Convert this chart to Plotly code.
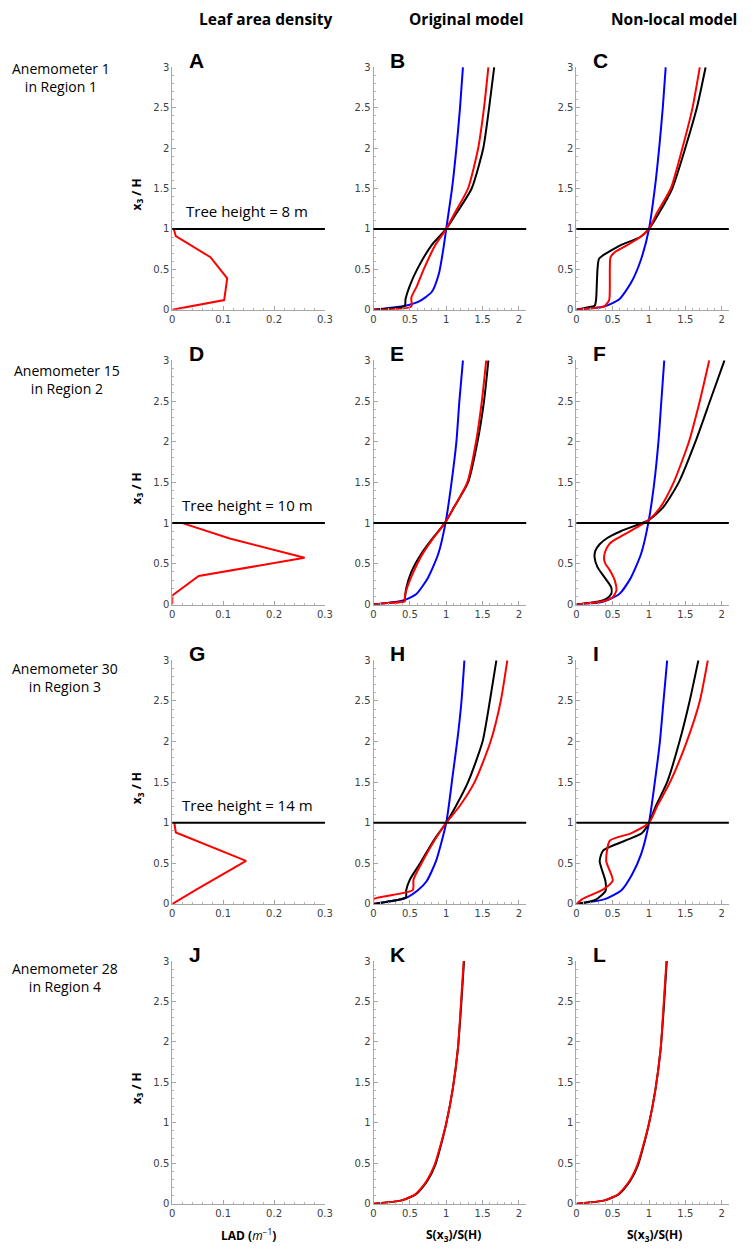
import plotly.graph_objects as go
from plotly.subplots import make_subplots

# values: x = LAD or S(x3)/S(H), y = x3/H
canopy_top = 1.0

lad_a_x = [0, 0.102, 0.108, 0.075, 0.007, 0.003]
lad_a_y = [0, 0.12, 0.39, 0.65, 0.91, 1.0]
lad_d_x = [0, 0, 0.052, 0.26, 0.113, 0.02]
lad_d_y = [0, 0.11, 0.35, 0.575, 0.81, 1.0]
lad_g_x = [0, 0.048, 0.145, 0.007, 0.004]
lad_g_y = [0, 0.18, 0.53, 0.88, 1.0]
lad_j_x = []  # no canopy in region 4
lad_j_y = []

b_black_x = [0, 0.43, 0.44, 0.5, 0.6, 0.8, 1.0, 1.145, 1.35, 1.51, 1.59, 1.66]
b_black_y = [0, 0.05, 0.13, 0.3, 0.5, 0.8, 1.0, 1.2, 1.5, 2.0, 2.5, 3.0]
b_red_x = [0, 0.52, 0.52, 0.6, 0.69, 0.85, 1.0, 1.12, 1.30, 1.44, 1.52, 1.58]
b_red_y = [0, 0.04, 0.15, 0.3, 0.5, 0.8, 1.0, 1.2, 1.5, 2.0, 2.5, 3.0]
b_blue_x = [0, 0.44, 0.62, 0.8, 0.9, 0.96, 1.0, 1.08, 1.14, 1.19, 1.23]
b_blue_y = [0, 0.05, 0.1, 0.22, 0.45, 0.75, 1.0, 1.5, 2.0, 2.5, 3.0]

c_black_x = [0, 0.15, 0.25, 0.27, 0.28, 0.29, 0.31, 0.36, 0.45, 0.61, 0.88, 1.0, 1.14, 1.32, 1.5, 1.66, 1.78]
c_black_y = [0, 0.03, 0.05, 0.12, 0.3, 0.5, 0.63, 0.67, 0.72, 0.8, 0.9, 1.0, 1.2, 1.5, 2.0, 2.5, 3.0]
c_red_x = [0, 0.2, 0.38, 0.45, 0.46, 0.46, 0.47, 0.54, 0.7, 0.88, 1.0, 1.11, 1.3, 1.46, 1.6, 1.70]
c_red_y = [0, 0.02, 0.04, 0.12, 0.3, 0.5, 0.65, 0.72, 0.8, 0.9, 1.0, 1.2, 1.5, 2.0, 2.5, 3.0]
c_blue_x = [0, 0.38, 0.59, 0.75, 0.885, 1.0, 1.08, 1.14, 1.19, 1.23]
c_blue_y = [0, 0.04, 0.13, 0.33, 0.61, 1.0, 1.5, 2.0, 2.5, 3.0]

e_black_x = [0, 0.2, 0.42, 0.43, 0.45, 0.52, 0.64, 0.80, 0.98, 1.11, 1.30, 1.43, 1.52, 1.58]
e_black_y = [0, 0.02, 0.04, 0.07, 0.2, 0.4, 0.6, 0.8, 1.0, 1.2, 1.5, 2.0, 2.5, 3.0]
e_red_x = [0, 0.2, 0.43, 0.43, 0.46, 0.55, 0.66, 0.81, 0.98, 1.11, 1.29, 1.41, 1.49, 1.55]
e_red_y = [0, 0.02, 0.04, 0.1, 0.2, 0.4, 0.6, 0.8, 1.0, 1.2, 1.5, 2.0, 2.5, 3.0]
e_blue_x = [0, 0.41, 0.59, 0.75, 0.89, 0.99, 1.07, 1.14, 1.18, 1.23]
e_blue_y = [0, 0.05, 0.13, 0.33, 0.62, 1.0, 1.48, 2.0, 2.49, 3.0]

f_black_x = [0, 0.32, 0.41, 0.48, 0.48, 0.39, 0.29, 0.25, 0.26, 0.32, 0.43, 0.61, 1.0, 1.20, 1.41, 1.64, 1.84, 2.04]
f_black_y = [0, 0.04, 0.07, 0.13, 0.21, 0.33, 0.46, 0.58, 0.66, 0.74, 0.82, 0.9, 1.04, 1.2, 1.5, 2.0, 2.5, 3.0]
f_red_x = [0, 0.36, 0.5, 0.55, 0.53, 0.46, 0.40, 0.38, 0.40, 0.45, 0.52, 0.7, 1.0, 1.16, 1.34, 1.55, 1.70, 1.83]
f_red_y = [0, 0.04, 0.09, 0.17, 0.29, 0.42, 0.5, 0.56, 0.66, 0.74, 0.79, 0.88, 1.04, 1.2, 1.5, 2.0, 2.5, 3.0]
f_blue_x = [0, 0.35, 0.59, 0.75, 0.89, 0.99, 1.07, 1.13, 1.17, 1.21]
f_blue_y = [0, 0.03, 0.13, 0.33, 0.62, 1.0, 1.48, 2.0, 2.5, 3.0]

h_black_x = [0, 0.2, 0.445, 0.45, 0.50, 0.64, 0.84, 1.0, 1.13, 1.30, 1.50, 1.60, 1.69]
h_black_y = [0, 0.03, 0.08, 0.17, 0.3, 0.5, 0.8, 1.0, 1.2, 1.5, 2.0, 2.5, 3.0]
h_red_x = [0, 0, 0.54, 0.55, 0.66, 0.85, 1.0, 1.18, 1.39, 1.61, 1.75, 1.84]
h_red_y = [0, 0.06, 0.17, 0.3, 0.5, 0.8, 1.0, 1.2, 1.5, 2.0, 2.5, 3.0]
h_blue_x = [0, 0.43, 0.61, 0.73, 0.86, 1.0, 1.09, 1.16, 1.21, 1.25]
h_blue_y = [0, 0.07, 0.17, 0.28, 0.53, 1.0, 1.59, 2.07, 2.5, 3.0]

i_black_x = [0, 0.26, 0.40, 0.40, 0.32, 0.37, 0.90, 1.0, 1.09, 1.25, 1.42, 1.56, 1.68]
i_black_y = [0, 0.05, 0.16, 0.28, 0.53, 0.66, 0.87, 1.0, 1.2, 1.5, 2.0, 2.5, 3.0]
i_red_x = [0, 0.08, 0.37, 0.50, 0.41, 0.46, 0.75, 1.0, 1.11, 1.29, 1.52, 1.70, 1.81]
i_red_y = [0, 0.06, 0.18, 0.29, 0.53, 0.78, 0.87, 1.0, 1.2, 1.5, 2.0, 2.5, 3.0]
i_blue_x = [0, 0.39, 0.62, 0.77, 0.89, 1.0, 1.08, 1.15, 1.2, 1.25]
i_blue_y = [0, 0.06, 0.17, 0.37, 0.61, 1.0, 1.5, 2.0, 2.5, 3.0]

kl_black_x = [0, 0.39, 0.59, 0.74, 0.85, 0.935, 1.0, 1.09, 1.16, 1.205, 1.245]
kl_red_x = [0, 0.39, 0.58, 0.73, 0.84, 0.93, 1.0, 1.09, 1.16, 1.2, 1.24]
kl_y = [0, 0.04, 0.12, 0.28, 0.48, 0.75, 0.99, 1.42, 1.91, 2.44, 3.0]

column_titles = ["Leaf area density", "Original model", "Non-local model"]
row_titles = ["Anemometer 1<br>in Region 1", "Anemometer 15<br>in Region 2",
              "Anemometer 30<br>in Region 3", "Anemometer 28<br>in Region 4"]
tree_labels = ["Tree height = 8 m", "Tree height = 10 m", "Tree height = 14 m"]
letters = ["A", "B", "C", "D", "E", "F", "G", "H", "I", "J", "K", "L"]

# each panel: list of (x, y, colour)
panels = [
    [(lad_a_x, lad_a_y, "red")],
    [(b_blue_x, b_blue_y, "blue"), (b_black_x, b_black_y, "black"), (b_red_x, b_red_y, "red")],
    [(c_blue_x, c_blue_y, "blue"), (c_black_x, c_black_y, "black"), (c_red_x, c_red_y, "red")],
    [(lad_d_x, lad_d_y, "red")],
    [(e_blue_x, e_blue_y, "blue"), (e_black_x, e_black_y, "black"), (e_red_x, e_red_y, "red")],
    [(f_blue_x, f_blue_y, "blue"), (f_black_x, f_black_y, "black"), (f_red_x, f_red_y, "red")],
    [(lad_g_x, lad_g_y, "red")],
    [(h_blue_x, h_blue_y, "blue"), (h_black_x, h_black_y, "black"), (h_red_x, h_red_y, "red")],
    [(i_blue_x, i_blue_y, "blue"), (i_black_x, i_black_y, "black"), (i_red_x, i_red_y, "red")],
    [(lad_j_x, lad_j_y, "red")],
    [(kl_black_x, kl_y, "black"), (kl_red_x, kl_y, "red")],
    [(kl_black_x, kl_y, "black"), (kl_red_x, kl_y, "red")],
]

# the page body adds an 8 px margin, so the figure is 16 px smaller than the window
PAGE = 8
W, H = 754 - 2 * PAGE, 1252 - 2 * PAGE


def px(x):
    return (x - PAGE) / W


def py(y):
    return 1 - (y - PAGE) / H


col_px = [(171.7, 326.7), (376, 531), (582, 736.7)]
row_px = [(61.7, 306.7), (357.7, 604.3), (660.7, 906.7), (964.3, 1209.3)]

fig = make_subplots(rows=4, cols=3)

axis_common = dict(
    showline=True, linecolor="#a6a6a6", linewidth=1,
    ticks="inside", ticklen=4, tickcolor="#a6a6a6",
    showgrid=False, zeroline=False,
    tickfont=dict(family="DejaVu Sans", size=10, color="#404040"),
)

for i, traces in enumerate(panels):
    r, c = i // 3 + 1, i % 3 + 1
    for x, y, color in traces:
        shape = "linear" if c == 1 else "spline"
        fig.add_trace(go.Scatter(x=x, y=y, mode="lines",
                                 line=dict(color=color, width=2, shape=shape, smoothing=0.6),
                                 showlegend=False, hoverinfo="skip"), row=r, col=c)
    x0, x1 = col_px[c - 1]
    y0, y1 = row_px[r - 1]
    if c == 1:
        xr = dict(range=[0, 0.3], tick0=0, dtick=0.1,
                  minor=dict(ticks="inside", ticklen=2, tickcolor="#b5b5b5", dtick=0.02, showgrid=False))
    else:
        xr = dict(range=[0, 2.1], tick0=0, dtick=0.5,
                  minor=dict(ticks="inside", ticklen=2, tickcolor="#b5b5b5", dtick=0.1, showgrid=False))
    fig.update_xaxes(domain=[px(x0), px(x1)], **xr, **axis_common, row=r, col=c)
    fig.update_yaxes(domain=[py(y1), py(y0)], range=[0, 3], tick0=0, dtick=0.5,
                     minor=dict(ticks="inside", ticklen=2, tickcolor="#b5b5b5", dtick=0.1, showgrid=False),
                     **axis_common, row=r, col=c)
    if r <= 3:
        fig.add_hline(y=canopy_top, line=dict(color="black", width=2), row=r, col=c)
    # panel letter
    fig.add_annotation(text="<b>" + letters[i] + "</b>", xref="paper", yref="paper",
                       x=px(x0 + 15), y=py(y0 - 7), xanchor="left", yanchor="middle", showarrow=False,
                       font=dict(family="Liberation Sans", size=21, color="black"))
    if c == 1 and r <= 3:
        fig.add_annotation(text=tree_labels[r - 1], xref="x" + ("" if i == 0 else str(i + 1)),
                           yref="y" + ("" if i == 0 else str(i + 1)), x=0.147, y=1.22,
                           xanchor="center", yanchor="middle", showarrow=False,
                           font=dict(family="Open Sans", size=15, color="black"))
    if c == 1:
        fig.add_annotation(text="<b>x<sub>3</sub> / H</b>", xref="paper", yref="paper",
                           x=px(135.5), y=py((y0 + y1) / 2 + 6.5), textangle=-90,
                           xanchor="center", yanchor="middle", showarrow=False,
                           font=dict(family="Open Sans", size=12, color="black"))

# column headers
for title, cx in zip(column_titles, [267, 470, 681]):
    fig.add_annotation(text="<b>" + title + "</b>", xref="paper", yref="paper", x=px(cx), y=py(13),
                       xanchor="center", yanchor="middle", showarrow=False,
                       font=dict(family="Open Sans", size=15.5, color="black"))

# row labels (kept clear of the left page edge)
for title, (cx, cy) in zip(row_titles, [(59, 72.5), (64.5, 377), (63, 678.3), (63, 981)]):
    fig.add_annotation(text=title, xref="paper", yref="paper", x=px(cx), y=py(cy),
                       xanchor="center", yanchor="middle", align="center", showarrow=False,
                       font=dict(family="Open Sans", size=14, color="black"))

# bottom axis titles
x_titles = ["<b>LAD (</b><i>m</i><sup>−1</sup><b>)</b>",
            "<b>S(x<sub>3</sub>)/S(H)</b>", "<b>S(x<sub>3</sub>)/S(H)</b>"]
for title, cx in zip(x_titles, [249, 457, 661]):
    fig.add_annotation(text=title, xref="paper", yref="paper", x=px(cx), y=py(1241),
                       xanchor="center", yanchor="middle", showarrow=False,
                       font=dict(family="Open Sans", size=12, color="black"))

fig.update_layout(width=W, height=H, margin=dict(l=0, r=0, t=0, b=0),
                  paper_bgcolor="white", plot_bgcolor="white", showlegend=False)

fig.write_html("out.html")
